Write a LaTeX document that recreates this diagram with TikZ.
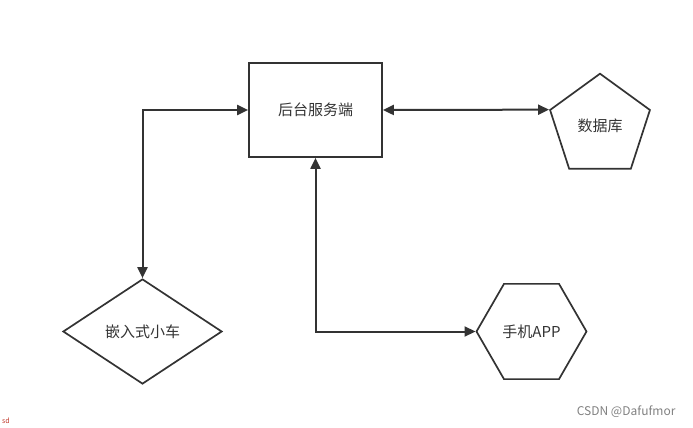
\documentclass[tikz,border=0pt]{standalone}
\usepackage{fontspec}
\setmainfont{Noto Sans CJK SC}
\usepackage{tikz}
\usetikzlibrary{shapes.geometric,arrows.meta}
\definecolor{line-gray}{HTML}{333333}
\definecolor{mark-red}{HTML}{C0392B}

\tikzset{
	box/.style={draw=line-gray,line width=1.7pt,text=line-gray,font=\fontsize{15}{18}\selectfont,inner sep=0pt},
	conn/.style={line-gray,line width=2pt,{Triangle[length=11pt,width=10pt]}-{Triangle[length=11pt,width=10pt]}}
}

\begin{document}
\begin{tikzpicture}[x=1pt,y=-1pt]
				\useasboundingbox (0,0) rectangle (693,428);
				\node [box,rectangle,minimum width=133pt,minimum height=94pt] (server) at (315.5,110) {后台服务端};
				\node [box,regular polygon,regular polygon sides=5,minimum size=105pt] (db) at (600,126.2) {数据库};
				\node [box,diamond,minimum width=159pt,minimum height=105pt] (car) at (142.5,331.5) {嵌入式小车};
				\node [box,regular polygon,regular polygon sides=6,minimum size=110pt] (app) at (531.5,331.5) {手机APP};
				
				\draw [conn] (car.north) |- (server.west);
				\draw [conn] (server.east) -- (db.corner 2);
				\draw [conn] (server.south) |- (app.west);
				
				\node [anchor=east,text=gray,font=\fontsize{12}{14}\selectfont] (mark) at (679,412) {CSDN @Dafufmor};
				\node [anchor=west,text=mark-red,font=\fontsize{7}{8}\selectfont,inner sep=0pt] (cut) at (2,421) {sd};
\end{tikzpicture}
\end{document}
